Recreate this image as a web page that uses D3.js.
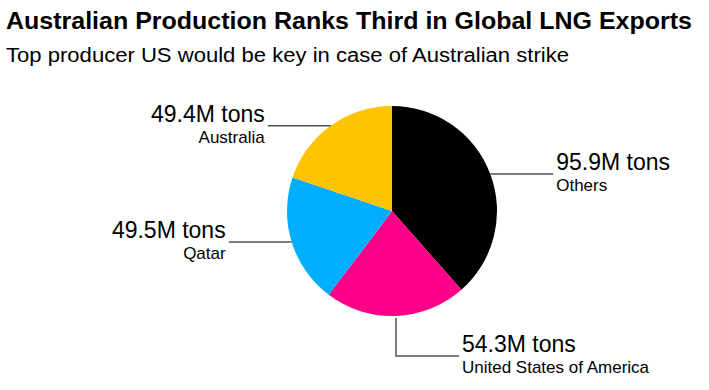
<!DOCTYPE html>
<html>
<head>
<meta charset="utf-8">
<script src="https://cdn.jsdelivr.net/npm/d3@7"></script>
<style>
  body { margin: 0; background: #fff; }
  svg { display: block; font-family: "Liberation Sans", Arial, sans-serif; }
</style>
</head>
<body>
<svg id="chart"></svg>
<script>
// LNG exports by producer, million tons
const producers = ['Others', 'United States of America', 'Qatar', 'Australia'];
const exportsMt = [95.9, 54.3, 49.5, 49.4];
const sliceColors = ['#000000', '#ff0089', '#00aeff', '#ffc300'];

const width = 709;
const height = 390;
const cx = 392, cy = 211, radius = 105;

const svg = d3.select('#chart')
  .attr('width', width)
  .attr('height', height);

// Title + subtitle
const title = svg.append('text')
  .attr('x', 6)
  .attr('y', 29)
  .style('font-size', '23px')
  .style('font-weight', 'bold')
  .style('fill', '#000')
  .text('Australian Production Ranks Third in Global LNG Exports');

const subtitle = svg.append('text')
  .attr('x', 6)
  .attr('y', 61.5)
  .style('font-size', '20px')
  .style('fill', '#000')
  .text('Top producer US would be key in case of Australian strike');

// squeeze/stretch the headings to the reference widths
function fitWidth(sel, w) {
  const len = sel.node().getComputedTextLength();
  if (Math.abs(len - w) > 2) sel.attr('textLength', w).attr('lengthAdjust', 'spacingAndGlyphs');
}
fitWidth(title, 686);
fitWidth(subtitle, 563);

const data = producers.map((name, i) => ({ name, value: exportsMt[i], color: sliceColors[i] }));

const pie = d3.pie()
  .sort(null)
  .value(d => d.value);

const arc = d3.arc()
  .innerRadius(0)
  .outerRadius(radius);

const arcs = pie(data);

const g = svg.append('g')
  .attr('transform', `translate(${cx},${cy})`);

g.selectAll('path')
  .data(arcs)
  .enter()
  .append('path')
  .attr('d', arc)
  .style('fill', d => d.data.color);

// Leader lines: start on the rim at each slice's mid angle
const lineLen = 63;
const labelLayout = {
  'Others': { dir: 1, drop: 0 },
  'United States of America': { dir: 1, drop: 40 },
  'Qatar': { dir: -1, drop: 0 },
  'Australia': { dir: -1, drop: 0 }
};

const labels = svg.append('g');

arcs.forEach(a => {
  const mid = (a.startAngle + a.endAngle) / 2;
  const x0 = cx + radius * Math.sin(mid);
  const y0 = cy - radius * Math.cos(mid);
  const lay = labelLayout[a.data.name];
  const y1 = y0 + lay.drop;
  const x1 = x0 + lay.dir * lineLen;

  const pts = lay.drop ? [[x0, y0 + 2], [x0, y1], [x1, y1]] : [[x0, y0], [x1, y1]];
  labels.append('path')
    .attr('d', d3.line()(pts))
    .style('fill', 'none')
    .style('stroke', '#555')
    .style('stroke-width', 1.5);

  const tx = x1 + lay.dir * 3;
  const anchor = lay.dir > 0 ? 'start' : 'end';

  labels.append('text')
    .attr('x', tx)
    .attr('y', y1 - 4)
    .attr('text-anchor', anchor)
    .style('font-size', '23px')
    .style('fill', '#000')
    .text(`${a.data.value}M tons`);

  labels.append('text')
    .attr('x', tx)
    .attr('y', y1 + 17)
    .attr('text-anchor', anchor)
    .style('font-size', '17px')
    .style('fill', '#000')
    .text(a.data.name);
});
</script>
</body>
</html>
